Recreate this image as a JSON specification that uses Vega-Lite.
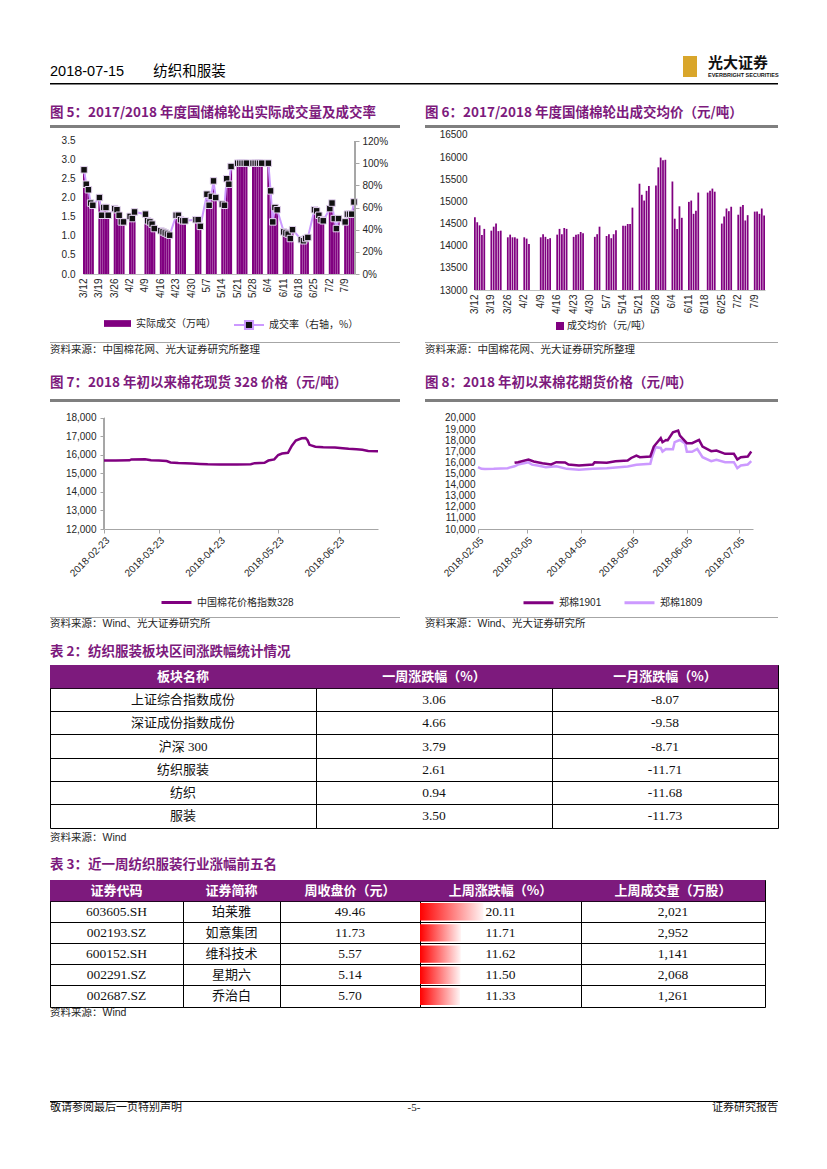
{
"$schema": "https://vega.github.io/schema/vega-lite/v6.json",
"padding": 0,
"background": "white",
"usermeta": {"embedOptions": {"actions": false}},
"spacing": 0,
"resolve": {"scale": {"color": "independent"}, "legend": {"color": "independent"}},
"config": {
  "view": {"stroke": null},
  "font": "Liberation Sans, Noto Sans CJK SC",
  "concat": {"spacing": 0},
  "title": {"anchor": "start", "frame": "group", "font": "Noto Sans CJK SC", "fontWeight": "bold", "fontSize": 13.5, "color": "#7d1a7d"},
  "axis": {"labelFont": "Liberation Sans", "labelColor": "#262626", "labelFontSize": 10, "grid": false},
  "legend": {"labelFont": "Liberation Sans, Noto Sans CJK SC", "labelFontSize": 10, "labelColor": "#262626"}
},
"datasets": {
  "days": [
    {"date":"2018-03-12","v":2.70,"r":94,"p":14640},{"date":"2018-03-13","v":2.36,"r":81,"p":14530},{"date":"2018-03-14","v":2.22,"r":76,"p":14460},{"date":"2018-03-15","v":1.86,"r":64,"p":14240},{"date":"2018-03-16","v":1.80,"r":62,"p":14380},
    {"date":"2018-03-19","v":2.00,"r":69,"p":14340},{"date":"2018-03-20","v":1.55,"r":53,"p":14430},{"date":"2018-03-21","v":1.75,"r":60,"p":14500},{"date":"2018-03-22","v":1.75,"r":60,"p":14330},{"date":"2018-03-23","v":1.55,"r":53,"p":14340},
    {"date":"2018-03-26","v":1.72,"r":59,"p":14190},{"date":"2018-03-27","v":1.70,"r":58,"p":14250},{"date":"2018-03-28","v":1.55,"r":53,"p":14190},{"date":"2018-03-29","v":1.37,"r":47,"p":14190},{"date":"2018-03-30","v":1.37,"r":47,"p":14160},
    {"date":"2018-04-02","v":1.52,"r":52,"p":14190},{"date":"2018-04-03","v":1.45,"r":50,"p":14160},{"date":"2018-04-04","v":1.63,"r":56,"p":14040},
    {"date":"2018-04-09","v":1.58,"r":54,"p":14190},{"date":"2018-04-10","v":1.40,"r":48,"p":14260},{"date":"2018-04-11","v":1.37,"r":47,"p":14200},{"date":"2018-04-12","v":1.31,"r":45,"p":14150},{"date":"2018-04-13","v":1.20,"r":41,"p":14170},
    {"date":"2018-04-16","v":1.14,"r":39,"p":14250},{"date":"2018-04-17","v":1.11,"r":38,"p":14380},{"date":"2018-04-18","v":1.08,"r":37,"p":14260},{"date":"2018-04-19","v":1.05,"r":36,"p":14400},{"date":"2018-04-20","v":1.02,"r":35,"p":14380},
    {"date":"2018-04-23","v":1.55,"r":53,"p":14200},{"date":"2018-04-24","v":1.55,"r":53,"p":14250},{"date":"2018-04-25","v":1.43,"r":49,"p":14260},{"date":"2018-04-26","v":1.40,"r":48,"p":14310},{"date":"2018-04-27","v":1.40,"r":48,"p":14280},
    {"date":"2018-05-02","v":1.43,"r":49,"p":14200},{"date":"2018-05-03","v":1.43,"r":49,"p":14260},{"date":"2018-05-04","v":1.26,"r":43,"p":14430},
    {"date":"2018-05-07","v":2.10,"r":72,"p":14220},{"date":"2018-05-08","v":1.80,"r":62,"p":14260},{"date":"2018-05-09","v":2.05,"r":70,"p":14170},{"date":"2018-05-10","v":2.45,"r":84,"p":14260},{"date":"2018-05-11","v":2.00,"r":69,"p":14350},
    {"date":"2018-05-14","v":1.85,"r":63,"p":14450},{"date":"2018-05-15","v":1.80,"r":62,"p":14450},{"date":"2018-05-16","v":2.50,"r":86,"p":14490},{"date":"2018-05-17","v":2.35,"r":81,"p":14490},{"date":"2018-05-18","v":2.85,"r":97,"p":14860},
    {"date":"2018-05-21","v":3.00,"r":100,"p":15400},{"date":"2018-05-22","v":3.00,"r":100,"p":15150},{"date":"2018-05-23","v":3.00,"r":100,"p":15020},{"date":"2018-05-24","v":3.00,"r":100,"p":15240},{"date":"2018-05-25","v":3.00,"r":100,"p":15350},
    {"date":"2018-05-28","v":3.00,"r":100,"p":15360},{"date":"2018-05-29","v":3.00,"r":100,"p":15770},{"date":"2018-05-30","v":3.00,"r":100,"p":15990},{"date":"2018-05-31","v":3.00,"r":100,"p":15930},{"date":"2018-06-01","v":3.00,"r":100,"p":15940},
    {"date":"2018-06-04","v":3.00,"r":100,"p":15450},{"date":"2018-06-05","v":2.20,"r":75,"p":14610},{"date":"2018-06-06","v":1.38,"r":47,"p":14380},{"date":"2018-06-07","v":1.75,"r":60,"p":14890},{"date":"2018-06-08","v":1.70,"r":58,"p":14630},
    {"date":"2018-06-11","v":1.10,"r":38,"p":14990},{"date":"2018-06-12","v":1.08,"r":37,"p":15020},{"date":"2018-06-13","v":1.05,"r":36,"p":14720},{"date":"2018-06-14","v":0.93,"r":32,"p":14790},{"date":"2018-06-15","v":1.17,"r":40,"p":15200},
    {"date":"2018-06-19","v":0.90,"r":31,"p":15200},{"date":"2018-06-20","v":0.88,"r":30,"p":15240},{"date":"2018-06-21","v":0.93,"r":32,"p":15290},{"date":"2018-06-22","v":0.96,"r":33,"p":15220},
    {"date":"2018-06-25","v":1.70,"r":58,"p":14500},{"date":"2018-06-26","v":1.66,"r":57,"p":14660},{"date":"2018-06-27","v":1.55,"r":53,"p":14840},{"date":"2018-06-28","v":1.43,"r":49,"p":14780},{"date":"2018-06-29","v":1.40,"r":48,"p":14880},
    {"date":"2018-07-02","v":1.72,"r":59,"p":14700},{"date":"2018-07-03","v":1.87,"r":64,"p":14880},{"date":"2018-07-04","v":1.46,"r":50,"p":14920},{"date":"2018-07-05","v":1.20,"r":41,"p":14570},{"date":"2018-07-06","v":1.46,"r":50,"p":14690},
    {"date":"2018-07-09","v":1.37,"r":47,"p":14770},{"date":"2018-07-10","v":1.58,"r":54,"p":14770},{"date":"2018-07-11","v":1.58,"r":54,"p":14720},{"date":"2018-07-12","v":1.58,"r":54,"p":14840},{"date":"2018-07-13","v":1.90,"r":65,"p":14680}
  ],
  "f7": [
    {"d":"2018-02-23","v":15700},{"d":"2018-03-01","v":15700},{"d":"2018-03-08","v":15710},{"d":"2018-03-09","v":15760},{"d":"2018-03-16","v":15770},{"d":"2018-03-19","v":15720},{"d":"2018-03-23","v":15700},{"d":"2018-03-27","v":15670},{"d":"2018-03-29","v":15600},{"d":"2018-04-02","v":15570},{"d":"2018-04-09","v":15540},{"d":"2018-04-13","v":15520},{"d":"2018-04-17","v":15500},{"d":"2018-04-23","v":15490},{"d":"2018-05-02","v":15490},{"d":"2018-05-09","v":15500},{"d":"2018-05-11","v":15560},{"d":"2018-05-16","v":15580},{"d":"2018-05-18","v":15700},{"d":"2018-05-21","v":15760},{"d":"2018-05-23","v":16000},{"d":"2018-05-25","v":16080},{"d":"2018-05-28","v":16120},{"d":"2018-05-30","v":16500},{"d":"2018-06-01","v":16780},{"d":"2018-06-04","v":16900},{"d":"2018-06-06","v":16920},{"d":"2018-06-07","v":16800},{"d":"2018-06-08","v":16550},{"d":"2018-06-11","v":16450},{"d":"2018-06-15","v":16420},{"d":"2018-06-21","v":16400},{"d":"2018-06-25","v":16370},{"d":"2018-06-28","v":16340},{"d":"2018-07-02","v":16310},{"d":"2018-07-05","v":16280},{"d":"2018-07-08","v":16220},{"d":"2018-07-13","v":16200}
  ],
  "f8": [
    {"d":"2018-02-05","s":"郑棉1809","v":15570},{"d":"2018-02-07","s":"郑棉1809","v":15420},{"d":"2018-02-09","s":"郑棉1809","v":15400},{"d":"2018-02-14","s":"郑棉1809","v":15420},{"d":"2018-02-22","s":"郑棉1809","v":15480},{"d":"2018-02-26","s":"郑棉1809","v":15650},{"d":"2018-02-28","s":"郑棉1809","v":15800},{"d":"2018-03-06","s":"郑棉1809","v":16000},{"d":"2018-03-08","s":"郑棉1809","v":15800},{"d":"2018-03-12","s":"郑棉1809","v":15700},{"d":"2018-03-16","s":"郑棉1809","v":15570},{"d":"2018-03-22","s":"郑棉1809","v":15660},{"d":"2018-03-28","s":"郑棉1809","v":15420},{"d":"2018-04-04","s":"郑棉1809","v":15330},{"d":"2018-04-12","s":"郑棉1809","v":15420},{"d":"2018-04-20","s":"郑棉1809","v":15480},{"d":"2018-05-02","s":"郑棉1809","v":15630},{"d":"2018-05-07","s":"郑棉1809","v":15780},{"d":"2018-05-15","s":"郑棉1809","v":15870},{"d":"2018-05-16","s":"郑棉1809","v":16470},{"d":"2018-05-18","s":"郑棉1809","v":17370},{"d":"2018-05-21","s":"郑棉1809","v":17300},{"d":"2018-05-22","s":"郑棉1809","v":16980},{"d":"2018-05-24","s":"郑棉1809","v":17210},{"d":"2018-05-28","s":"郑棉1809","v":17190},{"d":"2018-05-29","s":"郑棉1809","v":17820},{"d":"2018-06-01","s":"郑棉1809","v":18020},{"d":"2018-06-04","s":"郑棉1809","v":17700},{"d":"2018-06-05","s":"郑棉1809","v":16950},{"d":"2018-06-08","s":"郑棉1809","v":16950},{"d":"2018-06-11","s":"郑棉1809","v":17210},{"d":"2018-06-14","s":"郑棉1809","v":16470},{"d":"2018-06-19","s":"郑棉1809","v":16110},{"d":"2018-06-22","s":"郑棉1809","v":16230},{"d":"2018-06-27","s":"郑棉1809","v":16020},{"d":"2018-07-02","s":"郑棉1809","v":16020},{"d":"2018-07-04","s":"郑棉1809","v":15480},{"d":"2018-07-06","s":"郑棉1809","v":15720},{"d":"2018-07-10","s":"郑棉1809","v":15810},{"d":"2018-07-12","s":"郑棉1809","v":16110},
    {"d":"2018-02-26","s":"郑棉1901","v":15960},{"d":"2018-02-28","s":"郑棉1901","v":16020},{"d":"2018-03-06","s":"郑棉1901","v":16260},{"d":"2018-03-09","s":"郑棉1901","v":16080},{"d":"2018-03-14","s":"郑棉1901","v":15930},{"d":"2018-03-19","s":"郑棉1901","v":15810},{"d":"2018-03-22","s":"郑棉1901","v":16020},{"d":"2018-03-27","s":"郑棉1901","v":16000},{"d":"2018-03-29","s":"郑棉1901","v":15810},{"d":"2018-04-04","s":"郑棉1901","v":15720},{"d":"2018-04-12","s":"郑棉1901","v":15810},{"d":"2018-04-13","s":"郑棉1901","v":16020},{"d":"2018-04-20","s":"郑棉1901","v":15960},{"d":"2018-04-25","s":"郑棉1901","v":16110},{"d":"2018-05-02","s":"郑棉1901","v":16170},{"d":"2018-05-04","s":"郑棉1901","v":16400},{"d":"2018-05-07","s":"郑棉1901","v":16620},{"d":"2018-05-09","s":"郑棉1901","v":16470},{"d":"2018-05-15","s":"郑棉1901","v":16530},{"d":"2018-05-17","s":"郑棉1901","v":17430},{"d":"2018-05-21","s":"郑棉1901","v":18180},{"d":"2018-05-22","s":"郑棉1901","v":17820},{"d":"2018-05-24","s":"郑棉1901","v":18020},{"d":"2018-05-25","s":"郑棉1901","v":18000},{"d":"2018-05-28","s":"郑棉1901","v":18720},{"d":"2018-05-31","s":"郑棉1901","v":18870},{"d":"2018-06-01","s":"郑棉1901","v":18420},{"d":"2018-06-05","s":"郑棉1901","v":17730},{"d":"2018-06-08","s":"郑棉1901","v":17730},{"d":"2018-06-12","s":"郑棉1901","v":18020},{"d":"2018-06-14","s":"郑棉1901","v":17430},{"d":"2018-06-19","s":"郑棉1901","v":17010},{"d":"2018-06-22","s":"郑棉1901","v":17070},{"d":"2018-06-27","s":"郑棉1901","v":16770},{"d":"2018-07-02","s":"郑棉1901","v":16770},{"d":"2018-07-04","s":"郑棉1901","v":16260},{"d":"2018-07-06","s":"郑棉1901","v":16470},{"d":"2018-07-10","s":"郑棉1901","v":16530},{"d":"2018-07-12","s":"郑棉1901","v":16980}
  ],
  "t2": [
    {"r":0,"a":"板块名称","b":"一周涨跌幅（%）","c":"一月涨跌幅（%）"},
    {"r":1,"a":"上证综合指数成份","b":"3.06","c":"-8.07"},
    {"r":2,"a":"深证成份指数成份","b":"4.66","c":"-9.58"},
    {"r":3,"a":"沪深 300","b":"3.79","c":"-8.71"},
    {"r":4,"a":"纺织服装","b":"2.61","c":"-11.71"},
    {"r":5,"a":"纺织","b":"0.94","c":"-11.68"},
    {"r":6,"a":"服装","b":"3.50","c":"-11.73"}
  ],
  "t3": [
    {"r":0,"a":"证券代码","b":"证券简称","c":"周收盘价（元）","d":"上周涨跌幅（%）","e":"上周成交量（万股）"},
    {"r":1,"a":"603605.SH","b":"珀莱雅","c":"49.46","d":"20.11","dv":20.11,"e":"2,021"},
    {"r":2,"a":"002193.SZ","b":"如意集团","c":"11.73","d":"11.71","dv":11.71,"e":"2,952"},
    {"r":3,"a":"600152.SH","b":"维科技术","c":"5.57","d":"11.62","dv":11.62,"e":"1,141"},
    {"r":4,"a":"002291.SZ","b":"星期六","c":"5.14","d":"11.50","dv":11.50,"e":"2,068"},
    {"r":5,"a":"002687.SZ","b":"乔治白","c":"5.70","d":"11.33","dv":11.33,"e":"1,261"}
  ]
},
"vconcat": [
  {"width":1,"height":55,"data":{"values":[]},"mark":"point"},
  {"hconcat":[
    {"width":50,"height":24,"data":{"values":[]},"mark":"point"},
    {"width":633,"height":24,"data":{"values":[]},"mark":"point","title":{"text":"2018-07-15　　纺织和服装","offset":-23.5,"fontWeight":"normal","fontSize":14.5,"color":"#000000","font":"Liberation Sans, Noto Sans CJK SC"}},
    {"width":14,"height":21,"data":{"values":[]},"mark":"point","view":{"fill":"#d9a62b","stroke":null}},
    {"width":11,"height":24,"data":{"values":[]},"mark":"point"},
    {"width":70,"height":24,"data":{"values":[]},"mark":"point","title":{"text":"光大证券","subtitle":"EVERBRIGHT SECURITIES","offset":-22,"fontSize":15,"fontWeight":"bold","color":"#111111","font":"Noto Sans CJK SC","subtitleFont":"Liberation Sans","subtitleFontSize":5.5,"subtitleFontWeight":"bold","subtitleColor":"#111111","subtitlePadding":2}}
  ],"spacing":0,"bounds":"flush"},
  {"width":1,"height":3,"data":{"values":[]},"mark":"point"},
  {"hconcat":[
    {"width":50,"height":1.5,"data":{"values":[]},"mark":"point"},
    {"width":728,"height":1.5,"data":{"values":[]},"mark":"point","view":{"fill":"#000000","stroke":null}}
  ],"spacing":0,"bounds":"flush"},
  {"hconcat":[
    {"width":50,"height":39.5,"data":{"values":[]},"mark":"point"},
    {"width":350,"height":39.5,"data":{"values":[]},"mark":"point","title":{"text":"图 5：2017/2018 年度国储棉轮出实际成交量及成交率","offset":-34.5}},
    {"width":25,"height":39.5,"data":{"values":[]},"mark":"point"},
    {"width":353,"height":39.5,"data":{"values":[]},"mark":"point","title":{"text":"图 6：2017/2018 年度国储棉轮出成交均价（元/吨）","offset":-34.5}}
  ],"spacing":0,"bounds":"flush"},
  {"hconcat":[
    {"width":50,"height":3,"data":{"values":[]},"mark":"point"},
    {"width":350,"height":3,"data":{"values":[]},"mark":"point","view":{"fill":"#7f7f7f","stroke":null}},
    {"width":25,"height":3,"data":{"values":[]},"mark":"point"},
    {"width":353,"height":3,"data":{"values":[]},"mark":"point","view":{"fill":"#7f7f7f","stroke":null}}
  ],"spacing":0,"bounds":"flush"},
  {"hconcat":[
    {"width":83,"height":214,"data":{"values":[]},"mark":"point"},
    {"width":272,"height":146,"data":{"name":"days"},
     "encoding":{"x":{"field":"date","type":"ordinal","scale":{"domain":["2018-03-12","2018-03-13","2018-03-14","2018-03-15","2018-03-16","2018-03-17","2018-03-18","2018-03-19","2018-03-20","2018-03-21","2018-03-22","2018-03-23","2018-03-24","2018-03-25","2018-03-26","2018-03-27","2018-03-28","2018-03-29","2018-03-30","2018-03-31","2018-04-01","2018-04-02","2018-04-03","2018-04-04","2018-04-05","2018-04-06","2018-04-07","2018-04-08","2018-04-09","2018-04-10","2018-04-11","2018-04-12","2018-04-13","2018-04-14","2018-04-15","2018-04-16","2018-04-17","2018-04-18","2018-04-19","2018-04-20","2018-04-21","2018-04-22","2018-04-23","2018-04-24","2018-04-25","2018-04-26","2018-04-27","2018-04-28","2018-04-29","2018-04-30","2018-05-01","2018-05-02","2018-05-03","2018-05-04","2018-05-05","2018-05-06","2018-05-07","2018-05-08","2018-05-09","2018-05-10","2018-05-11","2018-05-12","2018-05-13","2018-05-14","2018-05-15","2018-05-16","2018-05-17","2018-05-18","2018-05-19","2018-05-20","2018-05-21","2018-05-22","2018-05-23","2018-05-24","2018-05-25","2018-05-26","2018-05-27","2018-05-28","2018-05-29","2018-05-30","2018-05-31","2018-06-01","2018-06-02","2018-06-03","2018-06-04","2018-06-05","2018-06-06","2018-06-07","2018-06-08","2018-06-09","2018-06-10","2018-06-11","2018-06-12","2018-06-13","2018-06-14","2018-06-15","2018-06-16","2018-06-17","2018-06-18","2018-06-19","2018-06-20","2018-06-21","2018-06-22","2018-06-23","2018-06-24","2018-06-25","2018-06-26","2018-06-27","2018-06-28","2018-06-29","2018-06-30","2018-07-01","2018-07-02","2018-07-03","2018-07-04","2018-07-05","2018-07-06","2018-07-07","2018-07-08","2018-07-09","2018-07-10","2018-07-11","2018-07-12","2018-07-13"],"paddingInner":0.05,"paddingOuter":0},
       "axis":{"values":["2018-03-12","2018-03-19","2018-03-26","2018-04-02","2018-04-09","2018-04-16","2018-04-23","2018-04-30","2018-05-07","2018-05-14","2018-05-21","2018-05-28","2018-06-04","2018-06-11","2018-06-18","2018-06-25","2018-07-02","2018-07-09"],"labelExpr":"toNumber(substring(datum.value,5,7)) + '/' + toNumber(substring(datum.value,8,10))","labelAngle":270,"labelPadding":4,"ticks":false,"domain":true,"domainColor":"#bfbfbf","title":null}}},
     "layer":[
       {"mark":{"type":"bar"},"encoding":{"y":{"field":"v","type":"quantitative","scale":{"domain":[0,3.8421],"nice":false},"axis":{"values":[0,0.5,1,1.5,2,2.5,3,3.5],"format":".1f","domain":false,"ticks":false,"labelPadding":8,"title":null}},
         "color":{"datum":"实际成交（万吨）","scale":{"range":["#800080"]},"legend":{"orient":"none","legendX":20,"legendY":181,"title":null,"symbolType":"M-1,-0.25H1V0.25H-1Z","symbolSize":729,"labelFont":"Noto Sans CJK SC","labelOffset":4}}}},
       {"mark":{"type":"line","strokeWidth":2},"encoding":{"y":{"field":"r","type":"quantitative","scale":{"domain":[0,131.73],"nice":false},"axis":{"orient":"right","values":[0,20,40,60,80,100,120],"labelExpr":"datum.value + '%'","domain":false,"tickColor":"#a6a6a6","tickSize":4,"labelPadding":3,"title":null}},
         "color":{"datum":"成交率（右轴，%）","scale":{"range":["#cc99ff"]},"legend":{"orient":"none","legendX":150,"legendY":181,"title":null,"symbolType":"M-1,0H-0.27M0.27,0H1M-0.27,-0.27H0.27V0.27H-0.27Z","symbolSize":900,"labelFont":"Noto Sans CJK SC","labelOffset":4,"encode":{"symbols":{"update":{"fill":{"value":"#111111"},"stroke":{"value":"#cc99ff"},"strokeWidth":{"value":2}}}}}}}},
       {"mark":{"type":"square","size":42,"filled":true,"color":"#111111","stroke":"#e6d5f2","strokeWidth":1,"opacity":1},"encoding":{"y":{"field":"r","type":"quantitative","scale":{"domain":[0,131.73],"nice":false},"axis":null}}},
       {"mark":{"type":"rule","color":"#a6a6a6"},"encoding":{"x":{"value":"width"},"y":{"datum":0,"type":"quantitative","scale":{"domain":[0,131.73],"nice":false},"axis":null},"y2":{"datum":120}}}
     ],
     "resolve":{"scale":{"y":"independent","color":"independent"},"axis":{"y":"independent"},"legend":{"color":"independent"}}},
    {"width":119,"height":214,"data":{"values":[]},"mark":"point"},
    {"width":291,"height":162,"data":{"name":"days"},
     "mark":{"type":"bar"},
     "encoding":{"x":{"field":"date","type":"ordinal","scale":{"domain":["2018-03-12","2018-03-13","2018-03-14","2018-03-15","2018-03-16","2018-03-17","2018-03-18","2018-03-19","2018-03-20","2018-03-21","2018-03-22","2018-03-23","2018-03-24","2018-03-25","2018-03-26","2018-03-27","2018-03-28","2018-03-29","2018-03-30","2018-03-31","2018-04-01","2018-04-02","2018-04-03","2018-04-04","2018-04-05","2018-04-06","2018-04-07","2018-04-08","2018-04-09","2018-04-10","2018-04-11","2018-04-12","2018-04-13","2018-04-14","2018-04-15","2018-04-16","2018-04-17","2018-04-18","2018-04-19","2018-04-20","2018-04-21","2018-04-22","2018-04-23","2018-04-24","2018-04-25","2018-04-26","2018-04-27","2018-04-28","2018-04-29","2018-04-30","2018-05-01","2018-05-02","2018-05-03","2018-05-04","2018-05-05","2018-05-06","2018-05-07","2018-05-08","2018-05-09","2018-05-10","2018-05-11","2018-05-12","2018-05-13","2018-05-14","2018-05-15","2018-05-16","2018-05-17","2018-05-18","2018-05-19","2018-05-20","2018-05-21","2018-05-22","2018-05-23","2018-05-24","2018-05-25","2018-05-26","2018-05-27","2018-05-28","2018-05-29","2018-05-30","2018-05-31","2018-06-01","2018-06-02","2018-06-03","2018-06-04","2018-06-05","2018-06-06","2018-06-07","2018-06-08","2018-06-09","2018-06-10","2018-06-11","2018-06-12","2018-06-13","2018-06-14","2018-06-15","2018-06-16","2018-06-17","2018-06-18","2018-06-19","2018-06-20","2018-06-21","2018-06-22","2018-06-23","2018-06-24","2018-06-25","2018-06-26","2018-06-27","2018-06-28","2018-06-29","2018-06-30","2018-07-01","2018-07-02","2018-07-03","2018-07-04","2018-07-05","2018-07-06","2018-07-07","2018-07-08","2018-07-09","2018-07-10","2018-07-11","2018-07-12","2018-07-13"],"paddingInner":0.25,"paddingOuter":0},
       "axis":{"values":["2018-03-12","2018-03-19","2018-03-26","2018-04-02","2018-04-09","2018-04-16","2018-04-23","2018-04-30","2018-05-07","2018-05-14","2018-05-21","2018-05-28","2018-06-04","2018-06-11","2018-06-18","2018-06-25","2018-07-02","2018-07-09"],"labelExpr":"toNumber(substring(datum.value,5,7)) + '/' + toNumber(substring(datum.value,8,10))","labelAngle":270,"labelPadding":4,"ticks":false,"domain":true,"domainColor":"#bfbfbf","title":null}},
       "y":{"field":"p","type":"quantitative","scale":{"domain":[13000,16658.06],"nice":false,"zero":false},"axis":{"values":[13000,13500,14000,14500,15000,15500,16000,16500],"format":"d","domain":false,"ticks":false,"labelPadding":7,"title":null}},
       "y2":{"datum":13000},
       "color":{"datum":"成交均价（元/吨）","scale":{"range":["#800080"]},"legend":{"orient":"none","legendX":81,"legendY":193,"title":null,"symbolType":"square","symbolSize":64,"labelFont":"Noto Sans CJK SC","labelOffset":2}}}}
  ],"spacing":0,"bounds":"flush","resolve":{"scale":{"color":"independent"},"legend":{"color":"independent"}}},
  {"hconcat":[
    {"width":50,"height":1,"data":{"values":[]},"mark":"point"},
    {"width":350,"height":1,"data":{"values":[]},"mark":"point","view":{"fill":"#a6a6a6","stroke":null}},
    {"width":25,"height":1,"data":{"values":[]},"mark":"point"},
    {"width":353,"height":1,"data":{"values":[]},"mark":"point","view":{"fill":"#a6a6a6","stroke":null}}
  ],"spacing":0,"bounds":"flush"},
  {"hconcat":[
    {"width":50,"height":21,"data":{"values":[]},"mark":"point"},
    {"width":350,"height":21,"data":{"values":[]},"mark":"point","title":{"text":"资料来源：中国棉花网、光大证券研究所整理","offset":-12.5,"fontWeight":"normal","fontSize":10.5,"color":"#262626","font":"Liberation Sans, Noto Sans CJK SC"}},
    {"width":25,"height":21,"data":{"values":[]},"mark":"point"},
    {"width":353,"height":21,"data":{"values":[]},"mark":"point","title":{"text":"资料来源：中国棉花网、光大证券研究所整理","offset":-12.5,"fontWeight":"normal","fontSize":10.5,"color":"#262626","font":"Liberation Sans, Noto Sans CJK SC"}}
  ],"spacing":0,"bounds":"flush"},
  {"hconcat":[
    {"width":50,"height":35,"data":{"values":[]},"mark":"point"},
    {"width":350,"height":35,"data":{"values":[]},"mark":"point","title":{"text":"图 7：2018 年初以来棉花现货 328 价格（元/吨）","offset":-25}},
    {"width":25,"height":35,"data":{"values":[]},"mark":"point"},
    {"width":353,"height":35,"data":{"values":[]},"mark":"point","title":{"text":"图 8：2018 年初以来棉花期货价格（元/吨）","offset":-25}}
  ],"spacing":0,"bounds":"flush"},
  {"hconcat":[
    {"width":50,"height":3,"data":{"values":[]},"mark":"point"},
    {"width":350,"height":3,"data":{"values":[]},"mark":"point","view":{"fill":"#7f7f7f","stroke":null}},
    {"width":25,"height":3,"data":{"values":[]},"mark":"point"},
    {"width":353,"height":3,"data":{"values":[]},"mark":"point","view":{"fill":"#7f7f7f","stroke":null}}
  ],"spacing":0,"bounds":"flush"},
  {"hconcat":[
    {"width":104,"height":215,"data":{"values":[]},"mark":"point"},
    {"width":274,"height":127,"data":{"name":"f7"},
     "encoding":{"x":{"field":"d","type":"temporal","scale":{"type":"utc","domain":[{"year":2018,"month":2,"date":23,"utc":true},{"year":2018,"month":7,"date":13,"utc":true}]},"axis":{"values":[{"year":2018,"month":2,"date":23,"utc":true},{"year":2018,"month":3,"date":23,"utc":true},{"year":2018,"month":4,"date":23,"utc":true},{"year":2018,"month":5,"date":23,"utc":true},{"year":2018,"month":6,"date":23,"utc":true}],"format":"%Y-%m-%d","labelAngle":-45,"tickColor":"#a6a6a6","domainColor":"#a6a6a6","tickSize":4,"labelPadding":2,"title":null}},
       "y":{"field":"v","type":"quantitative","scale":{"domain":[12000,18864.86],"nice":false,"zero":false},"axis":{"values":[12000,13000,14000,15000,16000,17000,18000],"format":",.0f","domain":false,"tickColor":"#a6a6a6","tickSize":4,"labelPadding":4,"title":null}}},
     "layer":[
       {"mark":{"type":"rule","color":"#a6a6a6"},"encoding":{"x":{"datum":{"year":2018,"month":2,"date":23,"utc":true},"type":"temporal"},"y":{"datum":12000,"type":"quantitative"},"y2":{"datum":18000}}},
       {"mark":{"type":"line","strokeWidth":2.5},
        "encoding":{"color":{"datum":"中国棉花价格指数328","scale":{"range":["#800080"]},"legend":{"orient":"none","legendX":56,"legendY":184,"title":null,"symbolType":"stroke","symbolSize":900,"symbolStrokeWidth":3,"labelFont":"Liberation Sans, Noto Sans CJK SC","labelOffset":4}}}}
     ]},
    {"width":100,"height":215,"data":{"values":[]},"mark":"point"},
    {"width":275,"height":127,"data":{"name":"f8"},
     "mark":{"type":"line","strokeWidth":2.5},
     "encoding":{"x":{"field":"d","type":"temporal","scale":{"type":"utc","domain":[{"year":2018,"month":2,"date":5,"utc":true},{"year":2018,"month":7,"date":13,"utc":true}]},"axis":{"values":[{"year":2018,"month":2,"date":5,"utc":true},{"year":2018,"month":3,"date":5,"utc":true},{"year":2018,"month":4,"date":5,"utc":true},{"year":2018,"month":5,"date":5,"utc":true},{"year":2018,"month":6,"date":5,"utc":true},{"year":2018,"month":7,"date":5,"utc":true}],"format":"%Y-%m-%d","labelAngle":-45,"tickColor":"#a6a6a6","domainColor":"#a6a6a6","tickSize":4,"labelPadding":2,"title":null}},
       "y":{"field":"v","type":"quantitative","scale":{"domain":[10000,21441.4],"nice":false,"zero":false},"axis":{"values":[10000,11000,12000,13000,14000,15000,16000,17000,18000,19000,20000],"format":",.0f","domain":false,"ticks":false,"labelPadding":3,"title":null}},
       "color":{"field":"s","type":"nominal","scale":{"domain":["郑棉1901","郑棉1809"],"range":["#800080","#cc99ff"]},"legend":{"orient":"none","legendX":44,"legendY":184,"direction":"horizontal","title":null,"symbolType":"stroke","symbolSize":900,"symbolStrokeWidth":3,"columnPadding":16,"labelOffset":4}}}}
  ],"spacing":0,"bounds":"flush","resolve":{"scale":{"color":"independent"},"legend":{"color":"independent"}}},
  {"hconcat":[
    {"width":50,"height":1,"data":{"values":[]},"mark":"point"},
    {"width":350,"height":1,"data":{"values":[]},"mark":"point","view":{"fill":"#a6a6a6","stroke":null}},
    {"width":25,"height":1,"data":{"values":[]},"mark":"point"},
    {"width":353,"height":1,"data":{"values":[]},"mark":"point","view":{"fill":"#a6a6a6","stroke":null}}
  ],"spacing":0,"bounds":"flush"},
  {"hconcat":[
    {"width":50,"height":21,"data":{"values":[]},"mark":"point"},
    {"width":350,"height":21,"data":{"values":[]},"mark":"point","title":{"text":"资料来源：Wind、光大证券研究所","offset":-11.5,"fontWeight":"normal","fontSize":10.5,"color":"#262626","font":"Liberation Sans, Noto Sans CJK SC"}},
    {"width":25,"height":21,"data":{"values":[]},"mark":"point"},
    {"width":353,"height":21,"data":{"values":[]},"mark":"point","title":{"text":"资料来源：Wind、光大证券研究所","offset":-11.5,"fontWeight":"normal","fontSize":10.5,"color":"#262626","font":"Liberation Sans, Noto Sans CJK SC"}}
  ],"spacing":0,"bounds":"flush"},
  {"hconcat":[
    {"width":50,"height":25,"data":{"values":[]},"mark":"point"},
    {"width":400,"height":25,"data":{"values":[]},"mark":"point","title":{"text":"表 2：纺织服装板块区间涨跌幅统计情况","offset":-19}}
  ],"spacing":0,"bounds":"flush"},
  {"hconcat":[
    {"width":50,"height":163,"data":{"values":[]},"mark":"point"},
    {"width":266,"height":163,"data":{"name":"t2"},"view":{"stroke":"#000000","strokeWidth":1},
     "encoding":{"y":{"field":"r","type":"ordinal","scale":{"domain":[0,1,2,3,4,5,6],"paddingInner":0,"paddingOuter":0},"axis":{"grid":true,"gridColor":"#000000","gridWidth":1,"bandPosition":0,"labels":false,"ticks":false,"domain":false,"title":null}}},
     "layer":[
       {"transform":[{"filter":"datum.r == 0"}],"mark":{"type":"bar","color":"#7d1a7d"}},
       {"transform":[{"filter":"datum.r == 0"}],"mark":{"type":"text","color":"#ffffff","font":"Noto Sans CJK SC","fontWeight":"bold","fontSize":13},"encoding":{"text":{"field":"a"}}},
       {"transform":[{"filter":"datum.r > 0"}],"mark":{"type":"text","color":"#111111","font":"Liberation Serif, Noto Sans CJK SC","fontSize":13},"encoding":{"text":{"field":"a"}}}
     ]},
    {"width":236,"height":163,"data":{"name":"t2"},"view":{"stroke":"#000000","strokeWidth":1},
     "encoding":{"y":{"field":"r","type":"ordinal","scale":{"domain":[0,1,2,3,4,5,6],"paddingInner":0,"paddingOuter":0},"axis":{"grid":true,"gridColor":"#000000","gridWidth":1,"bandPosition":0,"labels":false,"ticks":false,"domain":false,"title":null}}},
     "layer":[
       {"transform":[{"filter":"datum.r == 0"}],"mark":{"type":"bar","color":"#7d1a7d"}},
       {"transform":[{"filter":"datum.r == 0"}],"mark":{"type":"text","color":"#ffffff","font":"Noto Sans CJK SC","fontWeight":"bold","fontSize":13},"encoding":{"text":{"field":"b"}}},
       {"transform":[{"filter":"datum.r > 0"}],"mark":{"type":"text","color":"#111111","font":"Liberation Serif","fontSize":13.5},"encoding":{"text":{"field":"b"}}}
     ]},
    {"width":226,"height":163,"data":{"name":"t2"},"view":{"stroke":"#000000","strokeWidth":1},
     "encoding":{"y":{"field":"r","type":"ordinal","scale":{"domain":[0,1,2,3,4,5,6],"paddingInner":0,"paddingOuter":0},"axis":{"grid":true,"gridColor":"#000000","gridWidth":1,"bandPosition":0,"labels":false,"ticks":false,"domain":false,"title":null}}},
     "layer":[
       {"transform":[{"filter":"datum.r == 0"}],"mark":{"type":"bar","color":"#7d1a7d"}},
       {"transform":[{"filter":"datum.r == 0"}],"mark":{"type":"text","color":"#ffffff","font":"Noto Sans CJK SC","fontWeight":"bold","fontSize":13},"encoding":{"text":{"field":"c"}}},
       {"transform":[{"filter":"datum.r > 0"}],"mark":{"type":"text","color":"#111111","font":"Liberation Serif","fontSize":13.5},"encoding":{"text":{"field":"c"}}}
     ]}
  ],"spacing":0,"bounds":"flush"},
  {"hconcat":[
    {"width":50,"height":22,"data":{"values":[]},"mark":"point"},
    {"width":300,"height":22,"data":{"values":[]},"mark":"point","title":{"text":"资料来源：Wind","offset":-14.5,"fontWeight":"normal","fontSize":10.5,"color":"#262626","font":"Liberation Sans, Noto Sans CJK SC"}}
  ],"spacing":0,"bounds":"flush"},
  {"hconcat":[
    {"width":50,"height":28,"data":{"values":[]},"mark":"point"},
    {"width":400,"height":28,"data":{"values":[]},"mark":"point","title":{"text":"表 3：近一周纺织服装行业涨幅前五名","offset":-20}}
  ],"spacing":0,"bounds":"flush"},
  {"hconcat":[
    {"width":50,"height":127,"data":{"values":[]},"mark":"point"},
    {"width":133,"height":127,"data":{"name":"t3"},"view":{"stroke":"#000000","strokeWidth":1},
     "encoding":{"y":{"field":"r","type":"ordinal","scale":{"domain":[0,1,2,3,4,5],"paddingInner":0,"paddingOuter":0},"axis":{"grid":true,"gridColor":"#000000","gridWidth":1,"bandPosition":0,"labels":false,"ticks":false,"domain":false,"title":null}}},
     "layer":[
       {"transform":[{"filter":"datum.r == 0"}],"mark":{"type":"bar","color":"#7d1a7d"}},
       {"transform":[{"filter":"datum.r == 0"}],"mark":{"type":"text","color":"#ffffff","font":"Noto Sans CJK SC","fontWeight":"bold","fontSize":13},"encoding":{"text":{"field":"a"}}},
       {"transform":[{"filter":"datum.r > 0"}],"mark":{"type":"text","color":"#111111","font":"Liberation Serif","fontSize":13.5},"encoding":{"text":{"field":"a"}}}
     ]},
    {"width":97,"height":127,"data":{"name":"t3"},"view":{"stroke":"#000000","strokeWidth":1},
     "encoding":{"y":{"field":"r","type":"ordinal","scale":{"domain":[0,1,2,3,4,5],"paddingInner":0,"paddingOuter":0},"axis":{"grid":true,"gridColor":"#000000","gridWidth":1,"bandPosition":0,"labels":false,"ticks":false,"domain":false,"title":null}}},
     "layer":[
       {"transform":[{"filter":"datum.r == 0"}],"mark":{"type":"bar","color":"#7d1a7d"}},
       {"transform":[{"filter":"datum.r == 0"}],"mark":{"type":"text","color":"#ffffff","font":"Noto Sans CJK SC","fontWeight":"bold","fontSize":13},"encoding":{"text":{"field":"b"}}},
       {"transform":[{"filter":"datum.r > 0"}],"mark":{"type":"text","color":"#111111","font":"Noto Sans CJK SC","fontSize":13},"encoding":{"text":{"field":"b"}}}
     ]},
    {"width":140,"height":127,"data":{"name":"t3"},"view":{"stroke":"#000000","strokeWidth":1},
     "encoding":{"y":{"field":"r","type":"ordinal","scale":{"domain":[0,1,2,3,4,5],"paddingInner":0,"paddingOuter":0},"axis":{"grid":true,"gridColor":"#000000","gridWidth":1,"bandPosition":0,"labels":false,"ticks":false,"domain":false,"title":null}}},
     "layer":[
       {"transform":[{"filter":"datum.r == 0"}],"mark":{"type":"bar","color":"#7d1a7d"}},
       {"transform":[{"filter":"datum.r == 0"}],"mark":{"type":"text","color":"#ffffff","font":"Noto Sans CJK SC","fontWeight":"bold","fontSize":13},"encoding":{"text":{"field":"c"}}},
       {"transform":[{"filter":"datum.r > 0"}],"mark":{"type":"text","color":"#111111","font":"Liberation Serif","fontSize":13.5},"encoding":{"text":{"field":"c"}}}
     ]},
    {"width":161,"height":127,"data":{"name":"t3"},"view":{"stroke":"#000000","strokeWidth":1},
     "encoding":{"y":{"field":"r","type":"ordinal","scale":{"domain":[0,1,2,3,4,5],"paddingInner":0,"paddingOuter":0},"axis":{"grid":true,"gridColor":"#000000","gridWidth":1,"bandPosition":0,"labels":false,"ticks":false,"domain":false,"title":null}}},
     "layer":[
       {"transform":[{"filter":"datum.r == 0"}],"mark":{"type":"bar","color":"#7d1a7d"}},
       {"transform":[{"filter":"datum.r > 0"}],"mark":{"type":"bar","height":{"band":0.82},"color":{"gradient":"linear","x1":0,"x2":1,"y1":0,"y2":0,"stops":[{"offset":0,"color":"#ff0000"},{"offset":1,"color":"#fff5f5"}]}},
        "encoding":{"x":{"field":"dv","type":"quantitative","scale":{"domain":[-3.6,56.5],"nice":false,"zero":false},"axis":null},"x2":{"datum":-3.6}}},
       {"transform":[{"filter":"datum.r == 0"}],"mark":{"type":"text","color":"#ffffff","font":"Noto Sans CJK SC","fontWeight":"bold","fontSize":13},"encoding":{"text":{"field":"d"}}},
       {"transform":[{"filter":"datum.r > 0"}],"mark":{"type":"text","color":"#111111","font":"Liberation Serif","fontSize":13.5},"encoding":{"text":{"field":"d"}}}
     ],
     "resolve":{"scale":{"x":"independent"}}},
    {"width":184,"height":127,"data":{"name":"t3"},"view":{"stroke":"#000000","strokeWidth":1},
     "encoding":{"y":{"field":"r","type":"ordinal","scale":{"domain":[0,1,2,3,4,5],"paddingInner":0,"paddingOuter":0},"axis":{"grid":true,"gridColor":"#000000","gridWidth":1,"bandPosition":0,"labels":false,"ticks":false,"domain":false,"title":null}}},
     "layer":[
       {"transform":[{"filter":"datum.r == 0"}],"mark":{"type":"bar","color":"#7d1a7d"}},
       {"transform":[{"filter":"datum.r == 0"}],"mark":{"type":"text","color":"#ffffff","font":"Noto Sans CJK SC","fontWeight":"bold","fontSize":13},"encoding":{"text":{"field":"e"}}},
       {"transform":[{"filter":"datum.r > 0"}],"mark":{"type":"text","color":"#111111","font":"Liberation Serif","fontSize":13.5},"encoding":{"text":{"field":"e"}}}
     ]}
  ],"spacing":0,"bounds":"flush"},
  {"hconcat":[
    {"width":50,"height":20,"data":{"values":[]},"mark":"point"},
    {"width":300,"height":20,"data":{"values":[]},"mark":"point","title":{"text":"资料来源：Wind","offset":-7.5,"fontWeight":"normal","fontSize":10.5,"color":"#262626","font":"Liberation Sans, Noto Sans CJK SC"}}
  ],"spacing":0,"bounds":"flush"},
  {"width":1,"height":70,"data":{"values":[]},"mark":"point"},
  {"hconcat":[
    {"width":50,"height":1,"data":{"values":[]},"mark":"point"},
    {"width":728,"height":1,"data":{"values":[]},"mark":"point","view":{"fill":"#000000","stroke":null}}
  ],"spacing":0,"bounds":"flush"},
  {"hconcat":[
    {"width":50,"height":22,"data":{"values":[]},"mark":"point"},
    {"width":243,"height":22,"data":{"values":[]},"mark":"point","title":{"text":"敬请参阅最后一页特别声明","anchor":"start","offset":-8,"fontWeight":"normal","fontSize":11,"color":"#111111","font":"Noto Sans CJK SC"}},
    {"width":242,"height":22,"data":{"values":[]},"mark":"point","title":{"text":"-5-","anchor":"middle","offset":-8,"fontWeight":"normal","fontSize":11,"color":"#111111","font":"Liberation Serif"}},
    {"width":243,"height":22,"data":{"values":[]},"mark":"point","title":{"text":"证券研究报告","anchor":"end","offset":-8,"fontWeight":"normal","fontSize":11,"color":"#111111","font":"Noto Sans CJK SC"}}
  ],"spacing":0,"bounds":"flush"}
]
}
